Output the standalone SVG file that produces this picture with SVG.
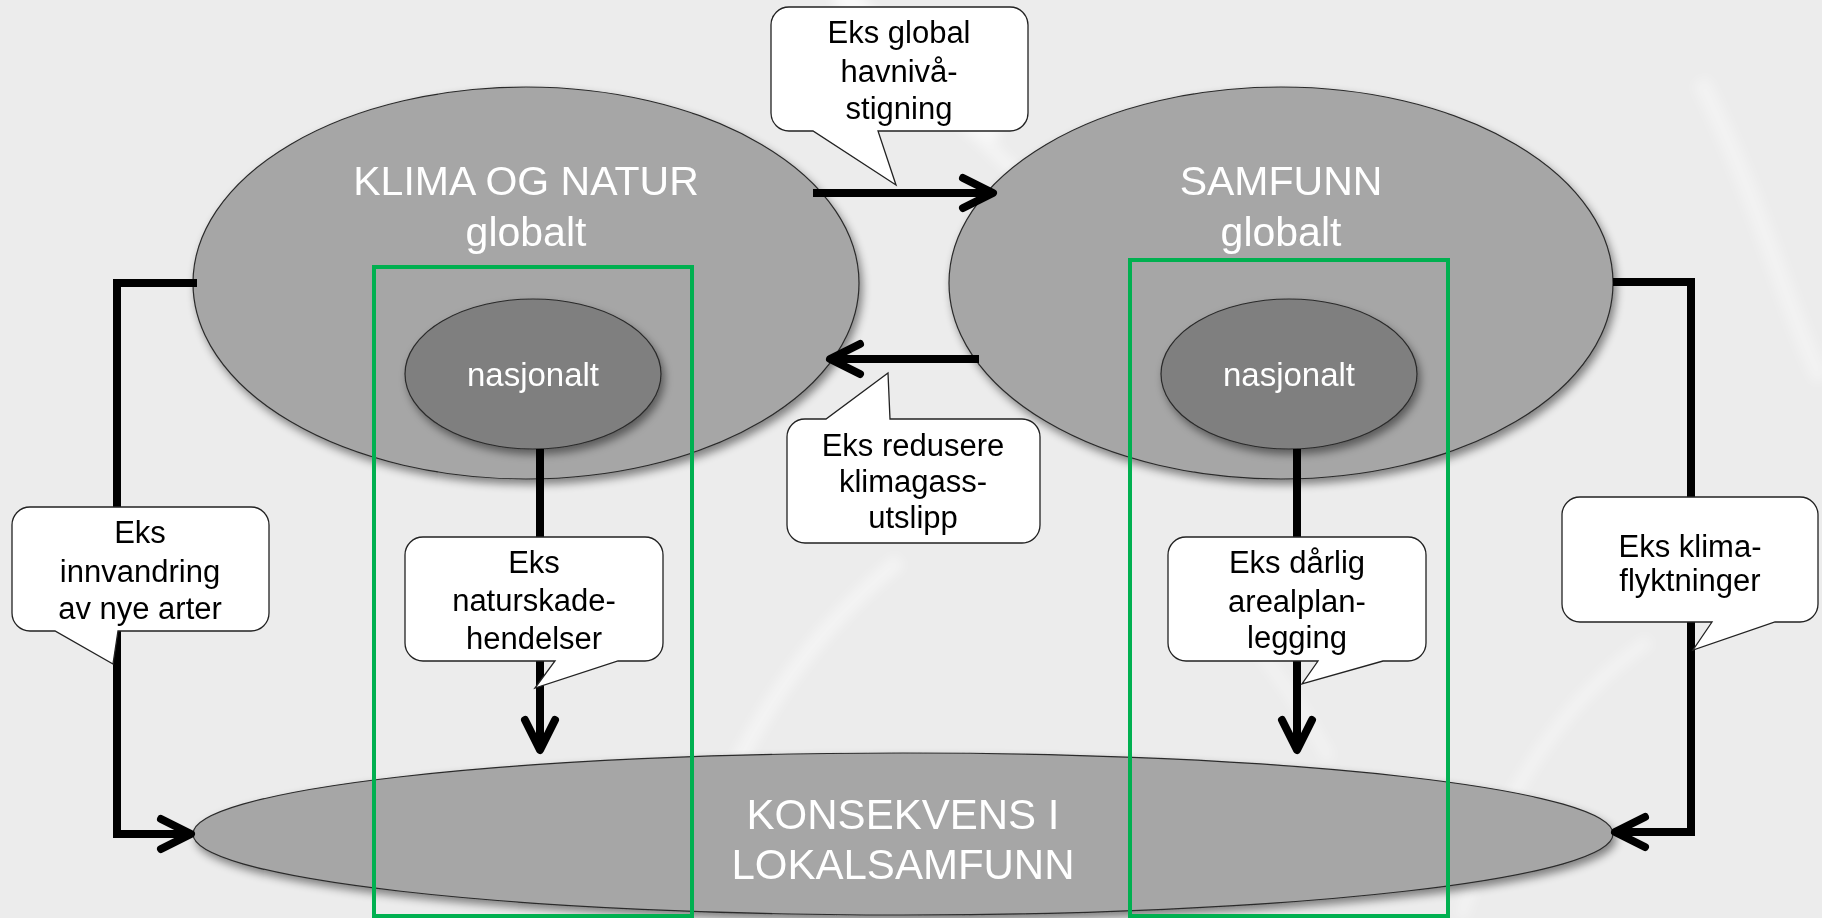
<svg xmlns="http://www.w3.org/2000/svg" width="1822" height="918" viewBox="0 0 1822 918">
  <defs>
    <filter id="sh" x="-10%" y="-10%" width="125%" height="130%">
      <feDropShadow dx="3" dy="5" stdDeviation="4" flood-color="#000" flood-opacity="0.45"/>
    </filter>
    <filter id="blur" x="-20%" y="-20%" width="140%" height="140%">
      <feGaussianBlur stdDeviation="6"/>
    </filter>
    <marker id="chev" viewBox="-40 -22 50 44" refX="0" refY="0" markerWidth="50" markerHeight="44" markerUnits="userSpaceOnUse" orient="auto" overflow="visible">
      <path d="M-30,-15 L0,0 L-30,15" fill="none" stroke="#000" stroke-width="8" stroke-linecap="round" stroke-linejoin="round"/>
    </marker>
  </defs>
  <style>
    .big { fill: #A6A6A6; stroke: #2a2a2a; stroke-width: 1.2; }
    .nat { fill: #7F7F7F; stroke: #2a2a2a; stroke-width: 1.2; }
    .grn { fill: none; stroke: #00B050; stroke-width: 4; }
    .con { fill: none; stroke: #000; stroke-width: 8; }
    .call { fill: #fff; stroke: #222; stroke-width: 1.3; }
    .wt { font-family: "Liberation Sans", Arial, sans-serif; fill: #fff; text-anchor: middle; }
    .bt { font-family: "Liberation Sans", Arial, sans-serif; fill: #000; text-anchor: middle; font-size: 31px; }
  </style>

  <!-- background -->
  <rect x="0" y="0" width="1822" height="918" fill="#ECECEC"/>
  <g id="texture" opacity="0.7" filter="url(#blur)" fill="none" stroke="#FFFFFF">
    <path d="M840,-10 C900,60 950,110 1000,130" stroke-width="26"/>
    <path d="M960,120 C1050,200 1100,260 1130,330" stroke-width="14" opacity="0.6"/>
    <path d="M680,918 C720,760 800,640 900,560" stroke-width="16" opacity="0.6"/>
    <path d="M1460,918 C1500,800 1560,700 1650,640" stroke-width="14" opacity="0.5"/>
    <path d="M1700,80 C1760,200 1790,320 1822,380" stroke-width="18" opacity="0.5"/>
    <path d="M1180,560 C1240,620 1300,700 1330,760" stroke-width="12" opacity="0.5"/>
  </g>

  <!-- ellipses -->
  <g id="klima">
    <ellipse class="big" cx="526" cy="283" rx="333" ry="196" filter="url(#sh)"/>
    <text class="wt" x="526" y="195" font-size="41">KLIMA OG NATUR</text>
    <text class="wt" x="526" y="246" font-size="41">globalt</text>
  </g>
  <g id="samfunn">
    <ellipse class="big" cx="1281" cy="283" rx="332" ry="196" filter="url(#sh)"/>
    <text class="wt" x="1281" y="195" font-size="41">SAMFUNN</text>
    <text class="wt" x="1281" y="246" font-size="41">globalt</text>
  </g>
  <g id="konsekvens">
    <ellipse class="big" cx="903" cy="834" rx="710" ry="81" filter="url(#sh)"/>
    <text class="wt" x="903" y="829" font-size="42">KONSEKVENS I</text>
    <text class="wt" x="903" y="879" font-size="42">LOKALSAMFUNN</text>
  </g>
  <g id="nasjonalt-venstre">
    <ellipse class="nat" cx="533" cy="374" rx="128" ry="75" filter="url(#sh)"/>
    <text class="wt" x="533" y="386" font-size="33">nasjonalt</text>
  </g>
  <g id="nasjonalt-hoyre">
    <ellipse class="nat" cx="1289" cy="374" rx="128" ry="75" filter="url(#sh)"/>
    <text class="wt" x="1289" y="386" font-size="33">nasjonalt</text>
  </g>

  <!-- green frames -->
  <g id="ramme-venstre"><rect class="grn" x="374" y="267" width="318" height="649"/></g>
  <g id="ramme-hoyre"><rect class="grn" x="1130" y="260" width="318" height="656"/></g>

  <!-- connectors -->
  <g id="connectors">
    <path class="con" d="M813,193 H993" marker-end="url(#chev)"/>
    <path class="con" d="M979,359 H830" marker-end="url(#chev)"/>
    <path class="con" d="M540,449 V750" marker-end="url(#chev)"/>
    <path class="con" d="M1297,449 V750" marker-end="url(#chev)"/>
    <path class="con" d="M197,283 H117 V834 H191" marker-end="url(#chev)"/>
    <path class="con" d="M1613,282 H1691 V832 H1615" marker-end="url(#chev)"/>
  </g>

  <!-- callouts -->
  <g id="callout-havniva">
    <path class="call" d="M789,7 H1010 A18,18 0 0 1 1028,25 V113 A18,18 0 0 1 1010,131 H878 L896,185 L813,131 H789 A18,18 0 0 1 771,113 V25 A18,18 0 0 1 789,7 Z"/>
    <text class="bt" x="899" y="43">Eks global</text>
    <text class="bt" x="899" y="82">havnivå-</text>
    <text class="bt" x="899" y="119">stigning</text>
  </g>
  <g id="callout-klimagass">
    <path class="call" d="M805,419 H826 L888,373 L890,419 H1022 A18,18 0 0 1 1040,437 V525 A18,18 0 0 1 1022,543 H805 A18,18 0 0 1 787,525 V437 A18,18 0 0 1 805,419 Z"/>
    <text class="bt" x="913" y="456">Eks redusere</text>
    <text class="bt" x="913" y="492">klimagass-</text>
    <text class="bt" x="913" y="528">utslipp</text>
  </g>
  <g id="callout-innvandring">
    <path class="call" d="M30,507 H251 A18,18 0 0 1 269,525 V613 A18,18 0 0 1 251,631 H118 L113,664 L55,631 H30 A18,18 0 0 1 12,613 V525 A18,18 0 0 1 30,507 Z"/>
    <text class="bt" x="140" y="543">Eks</text>
    <text class="bt" x="140" y="582">innvandring</text>
    <text class="bt" x="140" y="619">av nye arter</text>
  </g>
  <g id="callout-naturskade">
    <path class="call" d="M423,537 H645 A18,18 0 0 1 663,555 V643 A18,18 0 0 1 645,661 H618 L535,688 L555,661 H423 A18,18 0 0 1 405,643 V555 A18,18 0 0 1 423,537 Z"/>
    <text class="bt" x="534" y="573">Eks</text>
    <text class="bt" x="534" y="611">naturskade-</text>
    <text class="bt" x="534" y="649">hendelser</text>
  </g>
  <g id="callout-arealplan">
    <path class="call" d="M1186,537 H1408 A18,18 0 0 1 1426,555 V643 A18,18 0 0 1 1408,661 H1383 L1302,684 L1318,661 H1186 A18,18 0 0 1 1168,643 V555 A18,18 0 0 1 1186,537 Z"/>
    <text class="bt" x="1297" y="573">Eks dårlig</text>
    <text class="bt" x="1297" y="612">arealplan-</text>
    <text class="bt" x="1297" y="648">legging</text>
  </g>
  <g id="callout-flyktninger">
    <path class="call" d="M1580,497 H1800 A18,18 0 0 1 1818,515 V604 A18,18 0 0 1 1800,622 H1775 L1693,650 L1712,622 H1580 A18,18 0 0 1 1562,604 V515 A18,18 0 0 1 1580,497 Z"/>
    <text class="bt" x="1690" y="557">Eks klima-</text>
    <text class="bt" x="1690" y="591">flyktninger</text>
  </g>
</svg>
